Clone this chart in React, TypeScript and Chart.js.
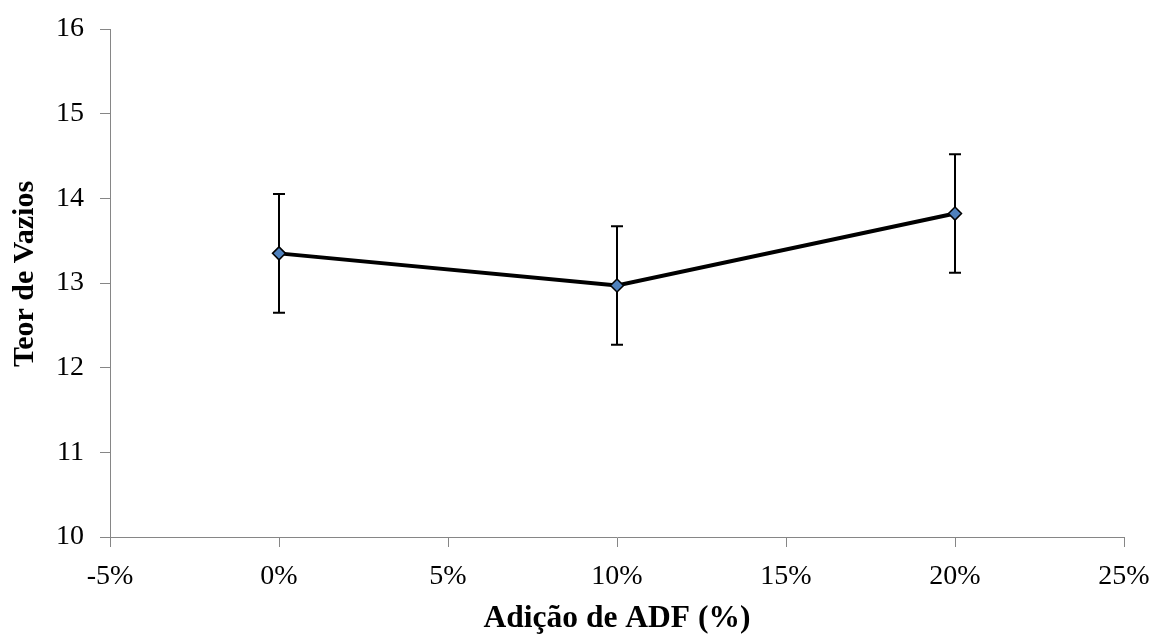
import React, { useEffect, useRef } from "react";
import { Chart, registerables } from "chart.js";

Chart.register(...registerables);

// ADF addition (%) and measured void content
const adfLevels = [0, 10, 20];
const voidContent = [13.35, 12.97, 13.82];
const voidError = [0.7, 0.7, 0.7];

const xTicks = [-5, 0, 5, 10, 15, 20, 25];
const yTicks = [10, 11, 12, 13, 14, 15, 16];

const yTitle = "Teor de Vazios";
const xTitle = "Adição de ADF (%)";

const axisGray = "#868686";
const serif = "'Liberation Serif', 'Times New Roman', serif";

// Vertical error bars with caps, drawn under the markers
const errorBars = {
  id: "errorBars",
  beforeDatasetsDraw(chart: any) {
    const { ctx, scales } = chart;
    const xs = scales.x;
    const ys = scales.y;
    ctx.save();
    ctx.strokeStyle = "#000";
    ctx.lineWidth = 2;
    adfLevels.forEach((lv, i) => {
      const px = Math.round(xs.getPixelForValue(lv));
      const top = ys.getPixelForValue(voidContent[i] + voidError[i]);
      const bot = ys.getPixelForValue(voidContent[i] - voidError[i]);
      const cap = 6;
      ctx.beginPath();
      ctx.moveTo(px, top);
      ctx.lineTo(px, bot);
      ctx.moveTo(px - cap, top);
      ctx.lineTo(px + cap, top);
      ctx.moveTo(px - cap, bot);
      ctx.lineTo(px + cap, bot);
      ctx.stroke();
    });
    ctx.restore();
  },
};

// Rotated y-axis title placed beside the tick labels
const yAxisTitle = {
  id: "yAxisTitle",
  afterDraw(chart: any) {
    const { ctx } = chart;
    ctx.save();
    ctx.translate(33, 274);
    ctx.rotate(-Math.PI / 2);
    ctx.font = `bold 30px ${serif}`;
    ctx.fillStyle = "#000";
    ctx.textAlign = "center";
    ctx.textBaseline = "alphabetic";
    ctx.fillText(yTitle, 0, 0);
    ctx.restore();
  },
};

export default function App() {
  const ref = useRef<HTMLCanvasElement>(null);

  useEffect(() => {
    document.body.style.margin = "0";
    const canvas = ref.current;
    if (!canvas) return;
    const chart = new Chart(canvas, {
      type: "line",
      data: {
        datasets: [
          {
            data: adfLevels.map((x, i) => ({ x, y: voidContent[i] })),
            borderColor: "#000",
            borderWidth: 4,
            pointStyle: "rectRot",
            pointRadius: 6.5,
            pointBackgroundColor: "#4F81BD",
            pointBorderColor: "#000",
            pointBorderWidth: 1.5,
            tension: 0,
          },
        ],
      },
      options: {
        responsive: false,
        animation: false,
        layout: { padding: { top: 29, right: 30, left: 0, bottom: 0 } },
        plugins: {
          legend: { display: false },
          tooltip: { enabled: false },
        },
        scales: {
          x: {
            type: "linear",
            min: -5,
            max: 25,
            afterFit: (s: any) => {
              s.height = 98;
              s.paddingLeft = 0;
              s.paddingRight = 0;
            },
            afterBuildTicks: (s: any) => {
              s.ticks = xTicks.map((v) => ({ value: v }));
            },
            ticks: {
              color: "#000",
              padding: 13,
              font: { family: serif, size: 28 },
              callback: (v: any) => `${v}%`,
            },
            grid: {
              drawOnChartArea: false,
              drawTicks: true,
              tickLength: 10,
              color: axisGray,
            },
            border: { display: true, color: axisGray, width: 1 },
            title: {
              display: true,
              text: xTitle,
              color: "#000",
              font: { family: serif, size: 31.5, weight: "bold", lineHeight: 1 },
              padding: { top: 0, bottom: 0 },
            },
          },
          y: {
            type: "linear",
            min: 10,
            max: 16,
            afterFit: (s: any) => {
              s.width = 110;
              s.paddingTop = 0;
              s.paddingBottom = 0;
            },
            afterBuildTicks: (s: any) => {
              s.ticks = yTicks.map((v) => ({ value: v }));
            },
            ticks: {
              color: "#000",
              padding: 16,
              font: { family: serif, size: 28 },
            },
            grid: {
              drawOnChartArea: false,
              drawTicks: true,
              tickLength: 10,
              color: axisGray,
            },
            border: { display: true, color: axisGray, width: 1 },
          },
        },
      },
      plugins: [errorBars, yAxisTitle],
    });
    return () => chart.destroy();
  }, []);

  return <canvas ref={ref} width={1154} height={635} style={{ display: "block" }} />;
}
